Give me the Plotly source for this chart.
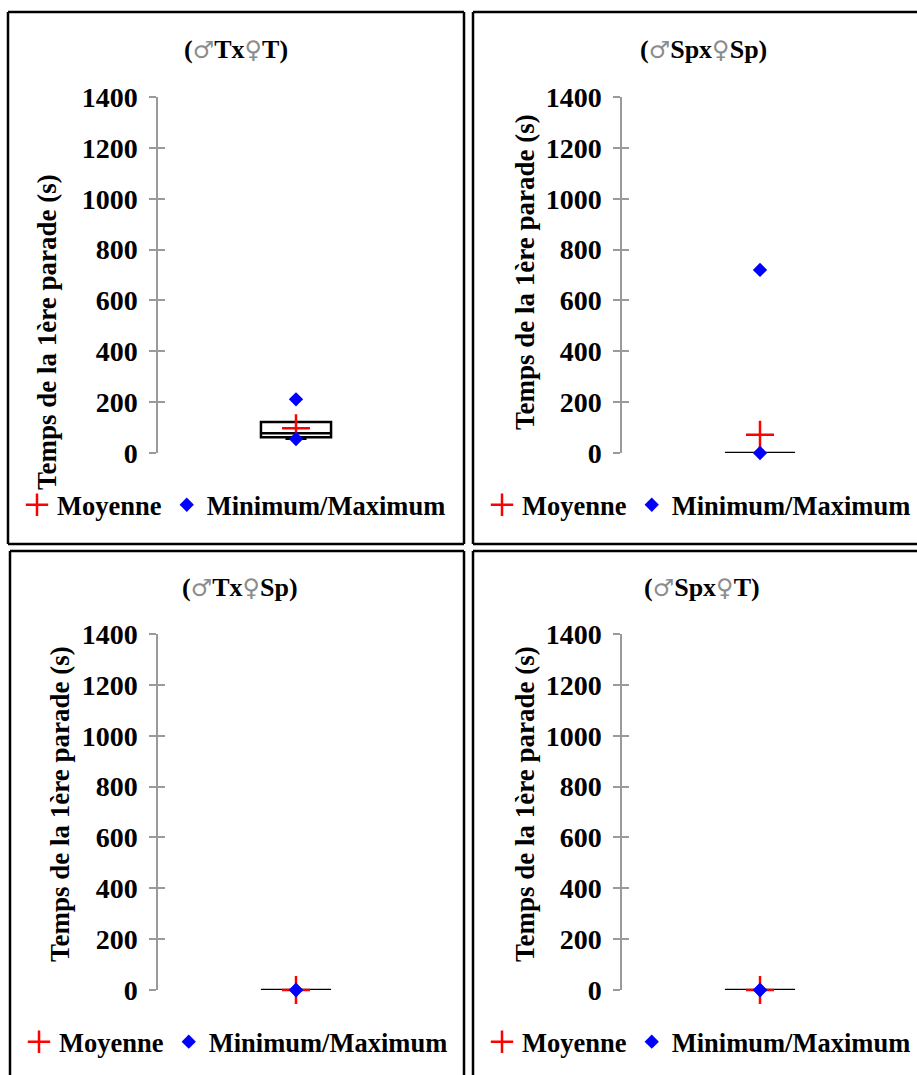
import plotly.graph_objects as go

# ---- data ----
panels = ["(♂Tx♀T)", "(♂Spx♀Sp)", "(♂Tx♀Sp)", "(♂Spx♀T)"]
q1 = [62, 0, 0, 0]
median = [78, 0, 0, 0]
q3 = [122, 0, 0, 0]
lowerfence = [56, 0, 0, 0]
upperfence = [122, 0, 0, 0]
means = [97, 72, 0, 0]
minimum = [55, 0, 0, 0]
maximum = [211, 720, 0, 0]
yticks = [0, 200, 400, 600, 800, 1000, 1200, 1400]
ytitle = "Temps de la 1ère parade (s)"

W, H = 917, 1075
FONT = "Liberation Serif"

fig = go.Figure()

# layout geometry in pixels
xdom_px = [(158, 434), (622, 898), (158, 434), (622, 898)]
ydom_px = [(97, 453), (97, 453), (634, 990), (634, 990)]
title_px = [(236, 50), (703, 50), (240, 587), (702, 587)]
ytitle_px = [(47, 332), (525, 272), (60, 804), (525, 804)]
legend_px = [(17, 505), (482, 505), (19, 1042), (482, 1042)]
# panel borders as line segments (x0, y0, x1, y1)
border_lines = [
    [(8, 12, 464, 12), (8, 12, 8, 544), (464, 12, 464, 544), (8, 544, 464, 544)],
    [(473, 12, 917, 12), (473, 12, 473, 544), (473, 544, 917, 544)],
    [(10, 551, 464, 551), (10, 551, 10, 1075), (464, 551, 464, 1075)],
    [(473, 551, 917, 551), (473, 551, 473, 1075)],
]

def px(x):
    return x / W

def py(y):
    return 1 - y / H

layout = dict(
    width=W, height=H, autosize=False,
    margin=dict(l=0, r=0, t=0, b=0, pad=0, autoexpand=False),
    paper_bgcolor="white", plot_bgcolor="white",
    font=dict(family=FONT, size=24, color="black"),
    showlegend=True,
    shapes=[], annotations=[],
)

for i, name in enumerate(panels):
    k = i + 1
    xa = "x" if k == 1 else f"x{k}"
    ya = "y" if k == 1 else f"y{k}"
    ya2 = f"y{k + 4}"
    leg = "legend" if k == 1 else f"legend{k}"
    cat = [name]

    fig.add_trace(go.Box(
        x=cat, q1=[q1[i]], median=[median[i]], q3=[q3[i]],
        lowerfence=[lowerfence[i]], upperfence=[upperfence[i]],
        width=0.254, whiskerwidth=0.3,
        fillcolor="white", line=dict(color="black", width=2.5),
        boxpoints=False, showlegend=False, hoverinfo="skip",
        xaxis=xa, yaxis=ya,
    ))
    fig.add_trace(go.Scatter(
        x=cat, y=[means[i]], mode="markers", name="Moyenne",
        marker=dict(symbol="cross-thin", size=20, color="red",
                    line=dict(color="red", width=2.5)),
        cliponaxis=False, xaxis=xa, yaxis=ya, legend=leg,
    ))
    fig.add_trace(go.Scatter(
        x=cat * 2, y=[minimum[i], maximum[i]], mode="markers",
        name="Minimum/Maximum",
        marker=dict(symbol="diamond", size=11, color="blue"),
        cliponaxis=False, xaxis=xa, yaxis=ya, legend=leg,
    ))
    # invisible trace to activate overlay axis (inner half of the cross ticks)
    fig.add_trace(go.Scatter(x=[], y=[], xaxis=xa, yaxis=ya2,
                             showlegend=False, hoverinfo="skip"))

    x0, x1 = xdom_px[i]
    y0, y1 = ydom_px[i]
    xkey = "xaxis" if k == 1 else f"xaxis{k}"
    ykey = "yaxis" if k == 1 else f"yaxis{k}"
    layout[xkey] = dict(
        domain=[px(x0), px(x1)], anchor=ya, type="category",
        range=[-0.5, 0.5], showline=False, showgrid=False, automargin=False,
        showticklabels=False, ticks="", zeroline=False, fixedrange=True,
    )
    common = dict(
        domain=[py(y1), py(y0)], anchor=xa, range=[0, 1400], automargin=False,
        tickmode="array", tickvals=yticks, showgrid=False, zeroline=False,
        tickcolor="#9a9a9a", tickwidth=1.5, ticklen=7, fixedrange=True,
    )
    layout[ykey] = dict(
        **common, showline=True, linecolor="#9a9a9a", linewidth=1.5,
        ticks="outside", ticklabelstandoff=6,
        tickfont=dict(family=FONT, size=28, color="black", weight="bold"),
    )
    layout[f"yaxis{k + 4}"] = dict(
        **common, overlaying=ya, side="left", ticks="inside",
        showline=False, showticklabels=False,
    )

    lx, ly = legend_px[i]
    layout[leg] = dict(
        orientation="h", x=px(lx), y=py(ly), xanchor="left", yanchor="middle",
        font=dict(family=FONT, size=26.5, color="black", weight="bold"),
        bgcolor="rgba(0,0,0,0)", itemwidth=30, tracegroupgap=0,
        itemclick=False, itemdoubleclick=False,
    )

    # panel border
    for (bx0, by0, bx1, by1) in border_lines[i]:
        layout["shapes"].append(dict(
            type="line", xref="paper", yref="paper",
            x0=px(bx0), x1=px(bx1), y0=py(by0), y1=py(by1),
            line=dict(color="black", width=2.5),
        ))

    # panel title with grey gender symbols
    sym = "<span style='color:#8c8c8c;font-weight:normal;font-family:DejaVu Sans;font-size:24px'>{}</span>"
    t = name.replace("♂", sym.format("♂")).replace("♀", sym.format("♀"))
    tx, ty = title_px[i]
    layout["annotations"].append(dict(
        text=f"<b>{t}</b>", xref="paper", yref="paper", x=px(tx), y=py(ty),
        xanchor="center", yanchor="middle", showarrow=False,
        font=dict(family=FONT, size=26, color="black"),
    ))

    # y-axis title
    ax, ay = ytitle_px[i]
    layout["annotations"].append(dict(
        text=f"<b>{ytitle}</b>", xref="paper", yref="paper", x=px(ax), y=py(ay),
        xanchor="center", yanchor="middle", showarrow=False, textangle=-90,
        font=dict(family=FONT, size=27, color="black"),
    ))

fig.update_layout(**layout)
fig.write_html(
    "out.html",
    config={"displayModeBar": False, "staticPlot": False},
    post_script="document.body.style.margin='0';document.body.style.overflow='hidden';",
)
